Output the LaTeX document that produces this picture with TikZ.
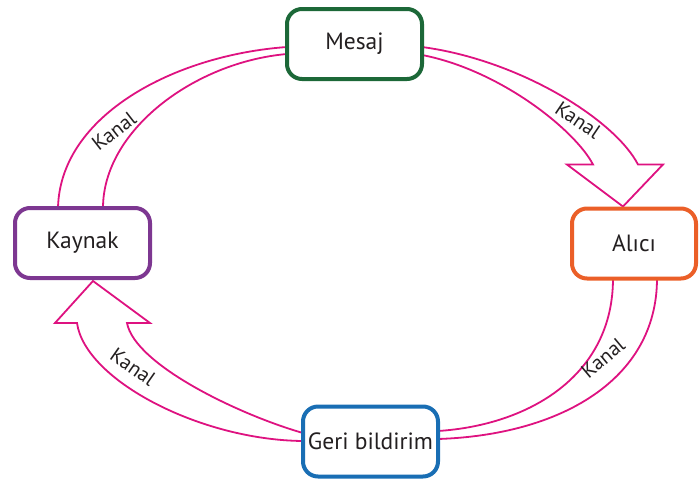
\documentclass[tikz,border=0pt]{standalone}
\usepackage{fontspec}
\setmainfont{PT Sans}
\usetikzlibrary{calc,backgrounds}
\definecolor{chanpink}{RGB}{222,18,128}
\definecolor{boxgreen}{RGB}{28,104,56}
\definecolor{boxpurple}{RGB}{125,55,145}
\definecolor{boxorange}{RGB}{235,95,40}
\definecolor{boxblue}{RGB}{25,110,180}
\definecolor{textcol}{RGB}{35,31,32}
\begin{document}
\begin{tikzpicture}[x=1pt,y=-1pt,
  box/.style={draw, line width=4pt, rounded corners=15pt, fill=white,
    minimum width=135pt, minimum height=70pt, inner sep=0pt,
    font=\fontsize{23.5}{26}\selectfont, text=textcol},
  chan/.style={draw=chanpink, line width=1.8pt, line join=miter},
  lbl/.style={font=\fontsize{20.5}{22}\selectfont, text=textcol, inner sep=0pt}]
\useasboundingbox (0,0) rectangle (699,483);
\node[box, draw=boxgreen] (mesaj) at (354.5,44) {Mesaj};
\node[box, draw=boxpurple] (kaynak) at (82.5,243) {Kaynak};
\node[box, draw=boxorange, minimum width=124pt] (alici) at (634,243.5) {Alıcı};
\node[box, draw=boxblue] (geri) at (370.5,441.5) {Geri bildirim};
\begin{scope}[on background layer]
  % Mesaj -- Kaynak
  \draw[chan] ($(mesaj.west)+(2,3)$) .. controls (175,55) and (60,115) .. ($(kaynak.north)+(-24.5,2)$);
  \draw[chan] ($(mesaj.west)+(2,10)$) .. controls (195,62) and (103,130) .. ($(kaynak.north)+(20.5,2)$);
  % Mesaj -> Alici (hollow arrow)
  \draw[chan] ($(mesaj.east)+(-2,3)$) .. controls (520,60) and (615,120) .. ($(alici.north)+(4,-42)$)
     -- ($(alici.north)+(29,-42)$) -- ($(alici.north)+(-11,0)$) -- ($(alici.north)+(-67,-42)$)
     -- ($(alici.north)+(-41,-42)$) .. controls (575,130) and (500,70) .. ($(mesaj.east)+(-2,11)$);
  % Alici -- Geri bildirim
  \draw[chan] ($(alici.south)+(-21,-2)$) .. controls (613,375) and (530,425) .. ($(geri.east)+(-2,-10.5)$);
  \draw[chan] ($(alici.south)+(23,-2)$) .. controls (657,380) and (560,435) .. ($(geri.east)+(-2,-2.5)$);
  % Geri bildirim -> Kaynak (hollow arrow)
  \draw[chan] ($(geri.west)+(2,-0.5)$) .. controls (200,440) and (85,380) .. ($(kaynak.south)+(-5.5,43)$)
     -- ($(kaynak.south)+(-27.5,43)$) -- ($(kaynak.south)+(10.5,1)$) -- ($(kaynak.south)+(67.5,43)$)
     -- ($(kaynak.south)+(44.5,43)$) .. controls (135,365) and (240,415) .. ($(geri.west)+(2,-8.5)$);
\end{scope}
\node[lbl, rotate=38] (k1) at (114,131) {Kanal};
\node[lbl, rotate=-34] (k2) at (578,120) {Kanal};
\node[lbl, rotate=40] (k3) at (603,358) {Kanal};
\node[lbl, rotate=-35] (k4) at (133,367) {Kanal};
\end{tikzpicture}
\end{document}
